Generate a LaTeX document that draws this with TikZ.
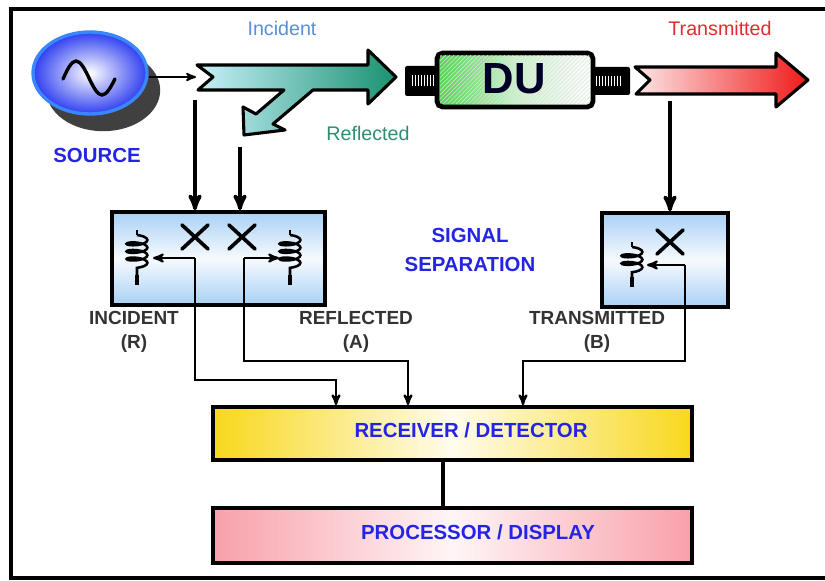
\documentclass[tikz,border=0pt]{standalone}
\usepackage{fontspec}
\setmainfont{Liberation Sans}
\usetikzlibrary{arrows}
\usetikzlibrary{shapes.geometric,shadows}
\usetikzlibrary{decorations.pathmorphing}
\usetikzlibrary{patterns}

\definecolor{incblue}{HTML}{5A8ED6}
\definecolor{refgreen}{HTML}{2E8E74}
\definecolor{trred}{HTML}{E02C30}
\definecolor{labblue}{HTML}{2424E6}
\definecolor{cyanlt}{HTML}{C8F0FA}
\definecolor{arrteal}{HTML}{1A9270}
\definecolor{pinklt}{HTML}{FDE6E6}
\definecolor{arrred}{HTML}{F01A1A}
\definecolor{cplblue}{HTML}{A9D0F5}
\definecolor{rcvyel}{HTML}{F8D81C}
\definecolor{procpink}{HTML}{F8A0AA}
\definecolor{dugreen}{HTML}{4CD44C}
\definecolor{srcblue}{HTML}{2F3FF0}
\definecolor{srcrim}{HTML}{3A86FF}

\tikzset{
  box/.style={draw=black, line width=2.6pt, inner sep=0pt},
  cpl/.style={box, top color=cplblue, bottom color=cplblue, middle color=white!90!cplblue},
  bar/.style={box, minimum width=11.975cm},
  srcdisk/.style={ellipse, draw=srcrim, line width=2.4pt, inner color=white, outer color=srcblue,
    minimum width=2.85cm, minimum height=2.05cm},
  bigarrow/.style={draw=black, line width=2.2pt, line join=round},
  wire/.style={line width=1.6pt, ->, >=stealth'},
  feed/.style={line width=2.6pt, ->, >=stealth'},
  cross/.style={line width=2.6pt, line cap=round},
  lab/.style={text=black!80, font=\fontsize{13.5}{17}\selectfont\bfseries, align=center},
  blab/.style={text=labblue, font=\fontsize{14.5}{20}\selectfont\bfseries, align=center},
  flow/.style={font=\fontsize{14}{16}\selectfont},
}

\begin{document}
\begin{tikzpicture}[x=0.25mm, y=-0.25mm]
\useasboundingbox (0,0) rectangle (825,581);
\draw[line width=3pt] (825,9) -- (11,9) -- (11,578) -- (825,578);

% source
\node[srcdisk, drop shadow={shadow xshift=3.3mm, shadow yshift=-4.3mm, fill=black!75, opacity=1}] (src) at (90,73) {};
\draw[line width=2.4pt, line cap=round] (63,79) sin (76,61) cos (89,78) sin (102,95) cos (115,79);
\node[blab] (srcTxt) at (97,155) {SOURCE};

% incident / reflected arrow
\draw[bigarrow, left color=cyanlt, right color=arrteal]
  (197,65) -- (368,65) -- (368,50) -- (396,77) -- (368,104) -- (368,90) -- (313,90)
  -- (273,124) -- (285,130) -- (244,135) -- (243,107) -- (256,114) -- (284,90)
  -- (198,90) -- (213,77) -- cycle;
\coordinate (tailI) at (196,77);
\draw[line width=1.4pt, ->, >=stealth'] (src.east |- tailI) -- (tailI);
\node[flow, text=incblue] (incTxt) at (282,28) {Incident};
\node[flow, text=refgreen] (refTxt) at (368,133) {Reflected};

% device under test
\fill[black, rounded corners=1.5pt] (405,66) rectangle (440,96);
\fill[black, rounded corners=1.5pt] (588,67) rectangle (630,95);
\foreach \x in {412,415,...,433} \draw[white, line width=0.7pt] (\x,75) -- (\x,86);
\foreach \x in {596,599,...,620} \draw[white, line width=0.7pt] (\x,76) -- (\x,86);
\draw[line width=3.4pt, rounded corners=4pt, left color=dugreen, right color=white, middle color=dugreen!30]
  (437,53) rectangle (593,107);
\fill[pattern=north east lines, pattern color=black!12] (440,56) rectangle (590,104);
\node[font=\fontsize{31}{31}\selectfont\bfseries, text=black!85!blue] (du) at (514,79) {DU};

% transmitted arrow
\draw[bigarrow, left color=pinklt, right color=arrred]
  (635,67) -- (776,67) -- (776,53) -- (808,80) -- (776,107) -- (776,94) -- (636,94)
  -- (650,80) -- cycle;
\node[flow, text=trred] (trTxt) at (720,28) {Transmitted};

% couplers
\node[cpl, minimum width=5.325cm, minimum height=2.325cm] (cplL) at (218.5,258.5) {};
\node[cpl, minimum width=3.15cm, minimum height=2.35cm] (cplT) at (665,260) {};

\coordinate (tapI) at (195,100);
\coordinate (tapA) at (240,147);
\coordinate (tapB) at (670,101);
\draw[feed] (tapI) -- (tapI |- cplL.north);
\draw[feed] (tapA) -- (tapA |- cplL.north);
\draw[feed] (tapB) -- (tapB |- cplT.north);

\foreach \cx/\cy in {195/237, 242/237, 670/242} {
  \draw[cross] (\cx-13,\cy-12) -- (\cx+13,\cy+12);
  \draw[cross] (\cx-13,\cy+12) -- (\cx+13,\cy-12);
}
\foreach \rx/\ry/\rl in {137/230/55, 290/230/55, 632/242/45} {
  \draw[line width=1.3pt] (\rx,\ry) -- (\rx,\ry+5);
  \draw[line width=1.8pt, decorate, decoration={coil, amplitude=2.6mm, segment length=1.9mm, aspect=0.3}]
    (\rx,\ry+5) -- (\rx,\ry+\rl-10);
  \draw[line width=3.2pt] (\rx,\ry+\rl-10) -- (\rx,\ry+\rl);
}

\node[blab] (sepTxt) at (470,250) {SIGNAL\\SEPARATION};
\node[lab] (rTxt) at (134,332) {INCIDENT\\(R)};
\node[lab] (aTxt) at (356,332) {REFLECTED\\(A)};
\node[lab] (bTxt) at (597,332) {TRANSMITTED\\(B)};

% receiver and processor
\node[bar, minimum height=1.325cm, left color=rcvyel, right color=rcvyel, middle color=white!92!rcvyel] (rcv) at (452.5,433.5) {};
\node[bar, minimum height=1.375cm, left color=procpink, right color=procpink, middle color=white!90!procpink] (proc) at (452.5,535.5) {};
\node[blab] (rcvTxt) at (471,430) {RECEIVER / DETECTOR};
\node[blab] (procTxt) at (478,532) {PROCESSOR / DISPLAY};
\coordinate (dtap) at (443,0);
\draw[line width=3.2pt] (rcv.south -| dtap) -- (proc.north -| dtap);

% wipers and lines to the receiver
\coordinate (wipR) at (195,258);
\coordinate (wipA) at (244,258);
\coordinate (wipB) at (685,265);
\coordinate (inR) at (336,380);
\coordinate (inA) at (408,361);
\coordinate (inB) at (523,361);
\draw[wire] (wipR) -- (153,258);
\draw[wire] (wipA) -- (279,258);
\draw[wire] (wipB) -- (647,265);
\draw[wire] (wipR) |- (inR) -- (inR |- rcv.north);
\draw[wire] (wipA) |- (inA) -- (inA |- rcv.north);
\draw[wire] (wipB) |- (inB) -- (inB |- rcv.north);
\end{tikzpicture}
\end{document}
